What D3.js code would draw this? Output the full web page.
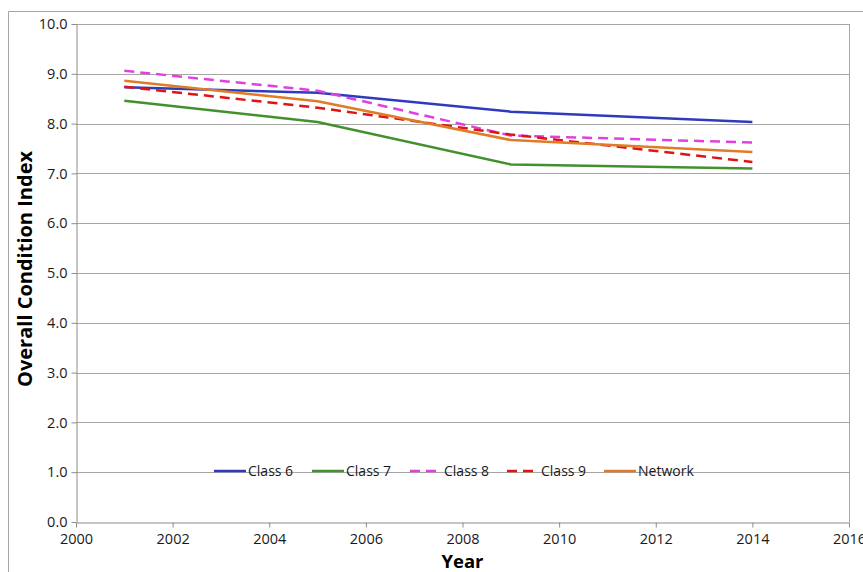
<!DOCTYPE html>
<html>
<head>
<meta charset="utf-8">
<script src="https://cdn.jsdelivr.net/npm/d3@7"></script>
<style>
  html, body { margin: 0; padding: 0; background: #fff; }
  svg { display: block; }
  text { font-family: "Open Sans", "DejaVu Sans", sans-serif; }
</style>
</head>
<body>
<svg id="chart" width="863" height="572"></svg>
<script>
// Overall Condition Index by class, survey years
const years = [2001, 2005, 2009, 2014];
const seriesNames = ["Class 6", "Class 7", "Class 8", "Class 9", "Network"];
const class6 = [8.73, 8.62, 8.24, 8.03];
const class7 = [8.46, 8.03, 7.18, 7.10];
const class8 = [9.06, 8.66, 7.76, 7.62];
const class9 = [8.74, 8.32, 7.78, 7.23];
const network = [8.86, 8.45, 7.67, 7.43];
const xTicks = [2000, 2002, 2004, 2006, 2008, 2010, 2012, 2014, 2016];
const yTicks = [0, 1, 2, 3, 4, 5, 6, 7, 8, 9, 10];

const seriesValues = [class6, class7, class8, class9, network];
const seriesStyle = [
  { color: "#2f3bbd", dash: null },
  { color: "#43902f", dash: null },
  { color: "#e040e0", dash: "10,6" },
  { color: "#e01414", dash: "10,6" },
  { color: "#e07b27", dash: null }
];

const svg = d3.select("#chart");
const W = 863, H = 572;
const plot = { left: 76, right: 849, top: 24, bottom: 522 };

// outer chart frame
svg.append("path")
  .attr("d", `M8.5,${H} V11.5 H${W}`)
  .attr("fill", "none").attr("stroke", "#a6a6a6").attr("stroke-width", 1);

const x = d3.scaleLinear().domain([2000, 2016]).range([plot.left, plot.right]);
const y = d3.scaleLinear().domain([0, 10]).range([plot.bottom, plot.top]);

// horizontal gridlines
svg.append("g")
  .selectAll("line").data(yTicks.slice(1)).join("line")
  .attr("x1", plot.left).attr("x2", plot.right)
  .attr("y1", d => Math.round(y(d)) + 0.5).attr("y2", d => Math.round(y(d)) + 0.5)
  .attr("stroke", "#a6a6a6").attr("stroke-width", 1);

// right border of plot area
svg.append("line")
  .attr("x1", plot.right + 0.5).attr("x2", plot.right + 0.5)
  .attr("y1", plot.top).attr("y2", plot.bottom)
  .attr("stroke", "#a6a6a6");

// y axis
const yAxis = svg.append("g")
  .attr("transform", `translate(${plot.left + 0.5},0)`)
  .call(d3.axisLeft(y).tickValues(yTicks).tickFormat(d3.format(".1f")).tickSize(5).tickSizeOuter(0));
yAxis.select(".domain").attr("stroke", "#8c8c8c");
yAxis.selectAll(".tick line").attr("stroke", "#8c8c8c");
yAxis.selectAll(".tick text").attr("font-size", 14.5).attr("fill", "#1a1a1a").attr("x", -9);

// x axis
const xAxis = svg.append("g")
  .attr("transform", `translate(0,${plot.bottom + 0.5})`)
  .call(d3.axisBottom(x).tickValues(xTicks).tickFormat(d3.format("d")).tickSize(5).tickSizeOuter(0));
xAxis.select(".domain").attr("stroke", "#8c8c8c");
xAxis.selectAll(".tick line").attr("stroke", "#8c8c8c");
xAxis.selectAll(".tick text").attr("font-size", 14.5).attr("fill", "#1a1a1a").attr("y", 11);

// axis titles
svg.append("text")
  .attr("x", x(2008)).attr("y", 568)
  .attr("text-anchor", "middle").attr("font-size", 18.5).attr("font-weight", "bold")
  .attr("fill", "#000").text("Year");
svg.append("text")
  .attr("transform", `translate(32,269) rotate(-90)`)
  .attr("text-anchor", "middle").attr("font-size", 20).attr("font-weight", "bold")
  .attr("fill", "#000").text("Overall Condition Index");

// series lines
const line = d3.line().x((d, i) => x(years[i])).y(d => y(d));
svg.append("g").selectAll("path").data(seriesValues).join("path")
  .attr("d", d => line(d))
  .attr("fill", "none")
  .attr("stroke", (d, i) => seriesStyle[i].color)
  .attr("stroke-width", 2.5)
  .attr("stroke-dasharray", (d, i) => seriesStyle[i].dash);

// legend
const legendX = [214, 312, 410, 507, 604];
const legendY = 471;
const lg = svg.append("g").selectAll("g").data(seriesNames).join("g")
  .attr("transform", (d, i) => `translate(${legendX[i]},${legendY})`);
lg.append("line")
  .attr("x1", 0).attr("x2", 32).attr("y1", 0).attr("y2", 0)
  .attr("stroke", (d, i) => seriesStyle[i].color)
  .attr("stroke-width", 2.5)
  .attr("stroke-dasharray", (d, i) => seriesStyle[i].dash);
lg.append("text")
  .attr("x", 34).attr("y", 5)
  .attr("font-size", 14).attr("fill", "#1a1a1a")
  .text(d => d);
</script>
</body>
</html>
